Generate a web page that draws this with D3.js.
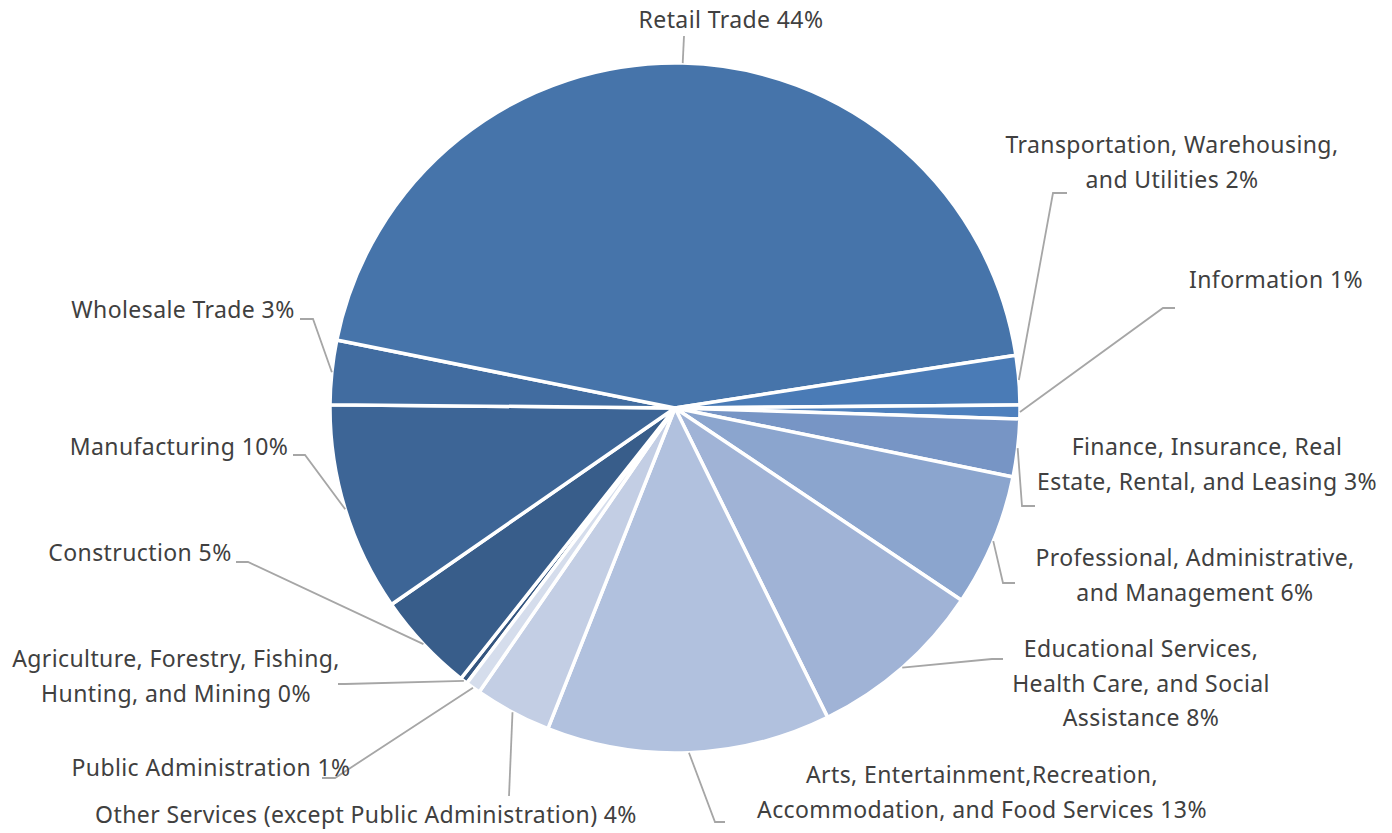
<!DOCTYPE html>
<html>
<head>
<meta charset="utf-8">
<script src="https://cdn.jsdelivr.net/npm/d3@7"></script>
<style>
  html, body { margin: 0; padding: 0; background: #ffffff; }
  svg { display: block; }
  .lbl { font-family: "Noto Sans", "Open Sans", sans-serif; font-size: 23px; letter-spacing: 0.4px; fill: #404040; }
</style>
</head>
<body>
<svg id="chart" width="1392" height="833"></svg>
<script>
// Employment share by industry sector (percent), in drawing order
const categories = [
  "Agriculture, Forestry, Fishing, Hunting, and Mining",
  "Construction",
  "Manufacturing",
  "Wholesale Trade",
  "Retail Trade",
  "Transportation, Warehousing, and Utilities",
  "Information",
  "Finance, Insurance, Real Estate, Rental, and Leasing",
  "Professional, Administrative, and Management",
  "Educational Services, Health Care, and Social Assistance",
  "Arts, Entertainment,Recreation, Accommodation, and Food Services",
  "Other Services (except Public Administration)",
  "Public Administration"
];
const values = [0.35, 4.7, 9.8, 3.0, 44.4, 2.3, 0.65, 2.7, 6.2, 8.3, 13.3, 3.6, 0.7];

// How each category name wraps in its label
const labelLines = [
  ["Agriculture, Forestry, Fishing,", "Hunting, and Mining"],
  ["Construction"],
  ["Manufacturing"],
  ["Wholesale Trade"],
  ["Retail Trade"],
  ["Transportation, Warehousing,", "and Utilities"],
  ["Information"],
  ["Finance, Insurance, Real", "Estate, Rental, and Leasing"],
  ["Professional, Administrative,", "and Management"],
  ["Educational Services,", "Health Care, and Social", "Assistance"],
  ["Arts, Entertainment,Recreation,", "Accommodation, and Food Services"],
  ["Other Services (except Public Administration)"],
  ["Public Administration"]
];

const colors = ["#34557f", "#385d8a", "#3d6596", "#416ca0", "#4674aa", "#4a7bb6", "#4e80bd",
                "#7795c5", "#8ba5ce", "#a0b3d6", "#b1c1de", "#c3cee4", "#d5ddec"];

// Label placement: text centre x, first line centre y, leader elbow and end
const labelLayout = [
  { x: 176,  y: 659, elbow: [345, 684],  end: [338, 684] },
  { x: 140,  y: 553, elbow: [248, 562],  end: [236, 562] },
  { x: 179,  y: 447, elbow: [305, 455],  end: [293, 455] },
  { x: 183,  y: 310, elbow: [313, 319],  end: [300, 319] },
  { x: 731,  y: 20,  elbow: [684, 36],   end: [684, 36] },
  { x: 1172, y: 145, elbow: [1053, 193], end: [1067, 193] },
  { x: 1276, y: 280, elbow: [1163, 308], end: [1175, 308] },
  { x: 1207, y: 447, elbow: [1022, 506], end: [1035, 506] },
  { x: 1195, y: 558, elbow: [1003, 583], end: [1015, 583] },
  { x: 1141, y: 649, elbow: [992, 659],  end: [1003, 659] },
  { x: 982,  y: 775, elbow: [715, 822],  end: [725, 822] },
  { x: 366,  y: 815, elbow: [509, 796],  end: [509, 796] },
  { x: 211,  y: 768, elbow: [335, 778],  end: [322, 778] }
];

const cx = 675, cy = 408, radius = 345;
const lineGap = 34.5;
const startDeg = 217.1;

const svg = d3.select("#chart");
const g = svg.append("g").attr("transform", `translate(${cx},${cy})`);

const total = d3.sum(values);
const pie = d3.pie()
  .value(d => d)
  .sort(null)
  .startAngle(startDeg * Math.PI / 180)
  .endAngle(startDeg * Math.PI / 180 + 2 * Math.PI);
const arcs = pie(values);

const arc = d3.arc().innerRadius(0).outerRadius(radius);

g.selectAll("path.slice")
  .data(arcs)
  .join("path")
  .attr("class", "slice")
  .attr("d", arc)
  .attr("fill", (d, i) => colors[i])
  .attr("stroke", "#ffffff")
  .attr("stroke-width", 3.5)
  .attr("stroke-linejoin", "round");

// Leader lines from the slice edge at its mid-angle
const leaders = svg.append("g");
arcs.forEach((a, i) => {
  const mid = (a.startAngle + a.endAngle) / 2;
  const sx = cx + radius * Math.sin(mid);
  const sy = cy - radius * Math.cos(mid);
  const L = labelLayout[i];
  leaders.append("polyline")
    .attr("points", [[sx, sy], L.elbow, L.end].map(p => p.join(",")).join(" "))
    .attr("fill", "none")
    .attr("stroke", "#a6a6a6")
    .attr("stroke-width", 1.8);
});

// Category labels with rounded percentages
const labels = svg.append("g");
arcs.forEach((a, i) => {
  const pct = Math.round(values[i] / total * 100) + "%";
  const lines = labelLines[i].slice();
  lines[lines.length - 1] = lines[lines.length - 1] + " " + pct;
  const L = labelLayout[i];
  const t = labels.append("text")
    .attr("class", "lbl")
    .attr("text-anchor", "middle");
  lines.forEach((s, k) => {
    t.append("tspan")
      .attr("x", L.x)
      .attr("y", L.y + k * lineGap)
      .attr("dy", "0.36em")
      .text(s);
  });
});
</script>
</body>
</html>
